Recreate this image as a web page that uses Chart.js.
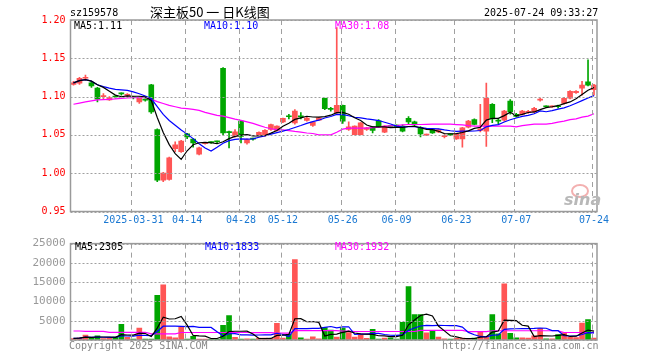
<!DOCTYPE html>
<html>
<head>
<meta charset="utf-8">
<script src="https://cdn.jsdelivr.net/npm/chart.js@4.4.1/dist/chart.umd.min.js"></script>
<style>
  body { margin: 0; background: #fff; }
  #wrap { position: relative; width: 660px; height: 360px; overflow: hidden; }
  #priceChart { position: absolute; left: 0; top: 0; }
  #volChart { position: absolute; left: 0; top: 232px; }
  .t { position: absolute; font: 10px "DejaVu Sans Mono", monospace; line-height: 12px; white-space: nowrap; }
</style>
</head>
<body>
<div id="wrap">
  <canvas id="priceChart" width="660" height="232"></canvas>
  <canvas id="volChart" width="660" height="128"></canvas>
  <div class="t" style="left:70px;top:7px;color:#000">sz159578</div>
  <div class="t" style="left:150px;top:4px;color:#000;font:13px 'Noto Sans CJK SC',sans-serif;line-height:16px">深主板50 一 日K线图</div>
  <div class="t" style="left:484px;top:7px;color:#000">2025-07-24 09:33:27</div>
  <div class="t" style="left:74px;top:20px;color:#000">MA5:1.11</div>
  <div class="t" style="left:204px;top:20px;color:#0000ff">MA10:1.10</div>
  <div class="t" style="left:335px;top:20px;color:#ff00ff">MA30:1.08</div>
  <div class="t" style="left:75px;top:241px;color:#000">MA5:2305</div>
  <div class="t" style="left:205px;top:241px;color:#0000ff">MA10:1833</div>
  <div class="t" style="left:335px;top:241px;color:#ff00ff">MA30:1932</div>
  <div class="t" style="left:69px;top:340px;color:#888">Copyright 2025 SINA.COM</div>
  <div class="t" style="left:442px;top:340px;color:#888">http://finance.sina.com.cn</div>
  <div class="t" style="left:571px;top:184px;width:14px;height:10px;border:2px solid #f3b0b0;border-radius:50%"></div>
  <div class="t" style="left:564px;top:192px;color:#b8b8b8;font:italic bold 16px 'DejaVu Sans',sans-serif;line-height:16px">sina</div>
</div>
<script>
// trading days
const dates = [
  "2025-03-17","2025-03-18","2025-03-19","2025-03-20","2025-03-21","2025-03-24","2025-03-25","2025-03-26","2025-03-27","2025-03-28",
  "2025-03-31","2025-04-01","2025-04-02","2025-04-03","2025-04-07","2025-04-08","2025-04-09","2025-04-10","2025-04-11","2025-04-14",
  "2025-04-15","2025-04-16","2025-04-17","2025-04-18","2025-04-21","2025-04-22","2025-04-23","2025-04-24","2025-04-28","2025-04-29",
  "2025-04-30","2025-05-06","2025-05-07","2025-05-08","2025-05-09","2025-05-12","2025-05-13","2025-05-14","2025-05-15","2025-05-16",
  "2025-05-19","2025-05-20","2025-05-21","2025-05-22","2025-05-23","2025-05-26","2025-05-27","2025-05-28","2025-05-29","2025-05-30",
  "2025-06-03","2025-06-04","2025-06-05","2025-06-06","2025-06-09","2025-06-10","2025-06-11","2025-06-12","2025-06-13","2025-06-16",
  "2025-06-17","2025-06-18","2025-06-19","2025-06-20","2025-06-23","2025-06-24","2025-06-25","2025-06-26","2025-06-27","2025-06-30",
  "2025-07-01","2025-07-02","2025-07-03","2025-07-04","2025-07-07","2025-07-08","2025-07-09","2025-07-10","2025-07-11","2025-07-14",
  "2025-07-15","2025-07-16","2025-07-17","2025-07-18","2025-07-21","2025-07-22","2025-07-23","2025-07-24"
];
const tickDates = ["2025-03-31","2025-04-14","2025-04-28","2025-05-12","2025-05-26","2025-06-09","2025-06-23","2025-07-07","2025-07-24"];

const opens = [
  1.116, 1.1175, 1.124, 1.118, 1.111, 1.100, 1.0956, 1.100, 1.104, 1.1015,
  1.099, 1.093, 1.096, 1.1154, 1.057, 0.991, 0.992, 1.032, 1.028, 1.0513,
  1.0447, 1.025, 1.0385, 1.0405, 1.0415, 1.137, 1.0535, 1.048, 1.068, 1.0395,
  1.045, 1.050, 1.0504, 1.057, 1.056, 1.067, 1.0738, 1.0658, 1.0745, 1.069,
  1.0623, 1.0693, 1.0978, 1.0835, 1.0789, 1.0886, 1.057, 1.0504, 1.0504, 1.057,
  1.0605, 1.0684, 1.0535, 1.0615, 1.0627, 1.0614, 1.0715, 1.067, 1.060, 1.0498,
  1.057, 1.054, 1.0478, 1.0505, 1.0447, 1.0447, 1.060, 1.070, 1.056, 1.0548,
  1.090, 1.0685, 1.0693, 1.0943, 1.077, 1.0767, 1.0795, 1.080, 1.0953, 1.087,
  1.0866, 1.087, 1.0912, 1.0978, 1.105, 1.111, 1.1193, 1.109
];
const closes = [
  1.118, 1.1237, 1.125, 1.114, 1.0965, 1.101, 1.0987, 1.0995, 1.1035, 1.102,
  1.0985, 1.0987, 1.0955, 1.080, 0.991, 1.000, 1.020, 1.037, 1.042, 1.0474,
  1.0395, 1.033, 1.039, 1.040, 1.041, 1.0526, 1.053, 1.054, 1.048, 1.0439,
  1.0445, 1.0535, 1.056, 1.0636, 1.0614, 1.0715, 1.0737, 1.0811, 1.0735, 1.072,
  1.0667, 1.0724, 1.0842, 1.0833, 1.0886, 1.068, 1.0605, 1.0614, 1.0658, 1.0592,
  1.056, 1.0605, 1.0614, 1.061, 1.0605, 1.0548, 1.067, 1.063, 1.0513, 1.050,
  1.0526, 1.057, 1.048, 1.050, 1.0513, 1.0592, 1.068, 1.0636, 1.058, 1.0978,
  1.071, 1.068, 1.0811, 1.080, 1.074, 1.0811, 1.080, 1.0846, 1.0956, 1.0868,
  1.0868, 1.0868, 1.0978, 1.107, 1.107, 1.115, 1.115, 1.115
];
const highs = [
  1.120, 1.125, 1.128, 1.120, 1.112, 1.104, 1.100, 1.101, 1.105, 1.104,
  1.100, 1.100, 1.097, 1.116, 1.058, 1.001, 1.021, 1.041, 1.043, 1.052,
  1.045, 1.034, 1.040, 1.041, 1.042, 1.138, 1.055, 1.057, 1.069, 1.045,
  1.046, 1.054, 1.057, 1.064, 1.062, 1.072, 1.077, 1.083, 1.079, 1.073,
  1.067, 1.073, 1.098, 1.086, 1.190, 1.089, 1.067, 1.062, 1.066, 1.060,
  1.061, 1.070, 1.062, 1.062, 1.063, 1.063, 1.074, 1.068, 1.061, 1.051,
  1.058, 1.058, 1.050, 1.051, 1.052, 1.060, 1.069, 1.071, 1.090, 1.1175,
  1.091, 1.071, 1.082, 1.096, 1.078, 1.082, 1.082, 1.086, 1.098, 1.088,
  1.088, 1.089, 1.099, 1.108, 1.108, 1.120, 1.148, 1.116
];
const lows = [
  1.115, 1.116, 1.121, 1.112, 1.093, 1.097, 1.095, 1.098, 1.102, 1.100,
  1.097, 1.091, 1.094, 1.078, 0.989, 0.989, 0.991, 1.028, 1.027, 1.045,
  1.034, 1.024, 1.038, 1.039, 1.040, 1.050, 1.033, 1.047, 1.0395, 1.038,
  1.043, 1.049, 1.048, 1.056, 1.055, 1.066, 1.071, 1.064, 1.071, 1.068,
  1.061, 1.069, 1.083, 1.081, 1.078, 1.065, 1.056, 1.050, 1.050, 1.056,
  1.0526, 1.060, 1.053, 1.060, 1.060, 1.054, 1.0645, 1.062, 1.0474, 1.049,
  1.052, 1.053, 1.046, 1.049, 1.044, 1.034, 1.059, 1.063, 1.054, 1.035,
  1.066, 1.064, 1.068, 1.077, 1.073, 1.076, 1.078, 1.079, 1.094, 1.086,
  1.086, 1.085, 1.090, 1.097, 1.104, 1.102, 1.114, 1.102
];
// MA30 (history before the window is not shown)
const ma30 = [
  1.090, 1.0915, 1.093, 1.0945, 1.0956, 1.096, 1.0965, 1.097, 1.0978, 1.0982,
  1.0987, 1.0987, 1.0985, 1.0965, 1.0935, 1.091, 1.0886, 1.0868, 1.085, 1.0842,
  1.0833, 1.082, 1.0795, 1.0775, 1.0756, 1.0745, 1.0725, 1.0705, 1.069, 1.067,
  1.065, 1.0625, 1.060, 1.058, 1.057, 1.0565, 1.0557, 1.0545, 1.0535, 1.0525,
  1.0518, 1.050, 1.050, 1.050, 1.0535, 1.0575, 1.0588, 1.0588, 1.0588, 1.0588,
  1.0595, 1.060, 1.0614, 1.0618, 1.0623, 1.063, 1.0636, 1.0636, 1.0636, 1.0638,
  1.064, 1.064, 1.064, 1.064, 1.0635, 1.063, 1.062, 1.0614, 1.0614, 1.0614,
  1.0614, 1.0614, 1.0614, 1.0614, 1.0605, 1.062, 1.063, 1.064, 1.064, 1.064,
  1.065, 1.0667, 1.068, 1.070, 1.071, 1.0732, 1.0746, 1.0776
];
const volumes = [
  400, 580, 1250, 580, 1080, 400, 580, 750, 4080, 670,
  250, 3080, 250, 250, 11580, 14330, 830, 580, 3330, 250,
  920, 250, 250, 250, 250, 3830, 6330, 670, 250, 330,
  250, 500, 500, 420, 4330, 500, 1500, 20830, 580, 250,
  830, 330, 3250, 2580, 750, 3080, 1920, 750, 1330, 420,
  2750, 250, 500, 580, 250, 4580, 13830, 6580, 6580, 1830,
  2330, 750, 330, 250, 420, 500, 250, 500, 2000, 920,
  6580, 1580, 14580, 1750, 580, 580, 500, 1080, 3000, 300,
  300, 1400, 1900, 700, 600, 4400, 5300, 525
];
const volMa30 = [
  2330, 2330, 2250, 2250, 2250, 2250, 2000, 2000, 2000, 2000,
  2000, 2000, 2000, 1600, 1600, 1600, 1600, 1600, 1950, 1950,
  1950, 1950, 1950, 1950, 1950, 1950, 1950, 1950, 1950, 1950,
  1900, 1900, 1900, 1900, 1800, 1800, 1800, 2450, 2450, 2450,
  2450, 2450, 2450, 2450, 2450, 2300, 2300, 2200, 2200, 2200,
  2200, 2200, 2200, 2200, 2200, 2200, 2200, 2200, 2500, 2500,
  2500, 2500, 2500, 2500, 2500, 2500, 2150, 2150, 2150, 2150,
  2400, 2400, 2400, 2400, 2400, 2400, 2400, 2400, 2400, 2400,
  2400, 2400, 1950, 1950, 1950, 1950, 1950, 1932
];

const upColor = "#ff5555";
const downColor = "#00a600";
const gridColor = "#a0a0a0";
const monoFont = { family: "DejaVu Sans Mono", size: 10 };

const movingAvg = (arr, n) =>
  arr.map((v, i) => {
    const part = arr.slice(Math.max(0, i - n + 1), i + 1);
    return part.reduce((a, b) => a + b, 0) / part.length;
  });

const candleColors = closes.map((c, i) => (c >= opens[i] ? upColor : downColor));
const isTick = (i) => tickDates.includes(dates[i]);

// dotted value lines, dashed date lines, gray frame
const guides = {
  id: "guides",
  afterDraw(chart) {
    const { ctx, chartArea: a, scales } = chart;
    ctx.save();
    ctx.strokeStyle = gridColor;
    ctx.lineWidth = 1;
    ctx.setLineDash([2, 2]);
    scales.y.ticks.forEach((t) => {
      const y = Math.round(scales.y.getPixelForValue(t.value)) + 0.5;
      ctx.beginPath();
      ctx.moveTo(a.left, y);
      ctx.lineTo(a.right, y);
      ctx.stroke();
    });
    ctx.setLineDash([5, 4]);
    dates.forEach((d, i) => {
      if (!isTick(i)) return;
      const x = Math.round(scales.x.getPixelForValue(i)) - 1.5;
      ctx.beginPath();
      ctx.moveTo(x, a.top);
      ctx.lineTo(x, a.bottom);
      ctx.stroke();
    });
    ctx.setLineDash([]);
    ctx.strokeStyle = "#9a9a9a";
    ctx.lineWidth = 1.5;
    ctx.strokeRect(a.left, a.top, a.right - a.left, a.bottom - a.top);
    ctx.restore();
  },
};

const xAxis = (showLabels) => ({
  type: "category",
  offset: true,
  afterFit: (scale) => { scale.height = showLabels ? 16 : 0; },
  grid: { display: false, drawTicks: false },
  border: { display: false },
  ticks: {
    display: showLabels,
    autoSkip: false,
    maxRotation: 0,
    padding: 3,
    color: "#1a78d2",
    font: monoFont,
    callback: function (value, index) {
      const d = dates[index];
      if (!isTick(index)) return null;
      return d === tickDates[0] ? d : d.slice(5);
    },
  },
});

const lineSet = (data, color) => ({
  type: "line",
  data: data,
  borderColor: color,
  borderWidth: 1.2,
  pointRadius: 0,
  tension: 0,
  fill: false,
  order: 0,
});

new Chart(document.getElementById("priceChart"), {
  type: "bar",
  data: {
    labels: dates,
    datasets: [
      lineSet(movingAvg(closes, 5), "#000000"),
      lineSet(movingAvg(closes, 10), "#0000ff"),
      lineSet(ma30, "#ff00ff"),
      {
        type: "bar",
        data: closes.map((c, i) => [opens[i], c]),
        backgroundColor: candleColors,
        barThickness: 5,
        minBarLength: 1,
        grouped: false,
        order: 1,
      },
      {
        type: "bar",
        data: highs.map((h, i) => [lows[i], h]),
        backgroundColor: candleColors,
        barThickness: 1,
        grouped: false,
        order: 2,
      },
    ],
  },
  options: {
    responsive: false,
    animation: false,
    layout: { padding: { left: 0, right: 63, top: 20, bottom: 4.5 } },
    plugins: { legend: { display: false }, tooltip: { enabled: false } },
    scales: {
      x: xAxis(true),
      y: {
        type: "linear",
        min: 0.95,
        max: 1.2,
        afterFit: (scale) => { scale.width = 70.5; },
        grid: { display: false, drawTicks: false },
        border: { display: false },
        ticks: {
          stepSize: 0.05,
          padding: 5,
          color: "#ff0000",
          font: monoFont,
          callback: (v) => v.toFixed(2),
        },
      },
    },
  },
  plugins: [guides],
});

new Chart(document.getElementById("volChart"), {
  type: "bar",
  data: {
    labels: dates,
    datasets: [
      lineSet(movingAvg(volumes, 5), "#000000"),
      lineSet(movingAvg(volumes, 10), "#0000ff"),
      lineSet(volMa30, "#ff00ff"),
      {
        type: "bar",
        data: volumes,
        backgroundColor: candleColors,
        barThickness: 5,
        order: 1,
      },
    ],
  },
  options: {
    responsive: false,
    animation: false,
    layout: { padding: { left: 0, right: 63, top: 8.5, bottom: 20 } },
    plugins: { legend: { display: false }, tooltip: { enabled: false } },
    scales: {
      x: xAxis(false),
      y: {
        type: "linear",
        min: 0,
        max: 25000,
        afterFit: (scale) => { scale.width = 70.5; },
        grid: { display: false, drawTicks: false },
        border: { display: false },
        ticks: {
          stepSize: 5000,
          padding: 5,
          color: "#999999",
          font: { family: "DejaVu Sans Mono", size: 11 },
          callback: (v) => (v === 0 ? "" : String(v)),
        },
      },
    },
  },
  plugins: [guides],
});
</script>
</body>
</html>
